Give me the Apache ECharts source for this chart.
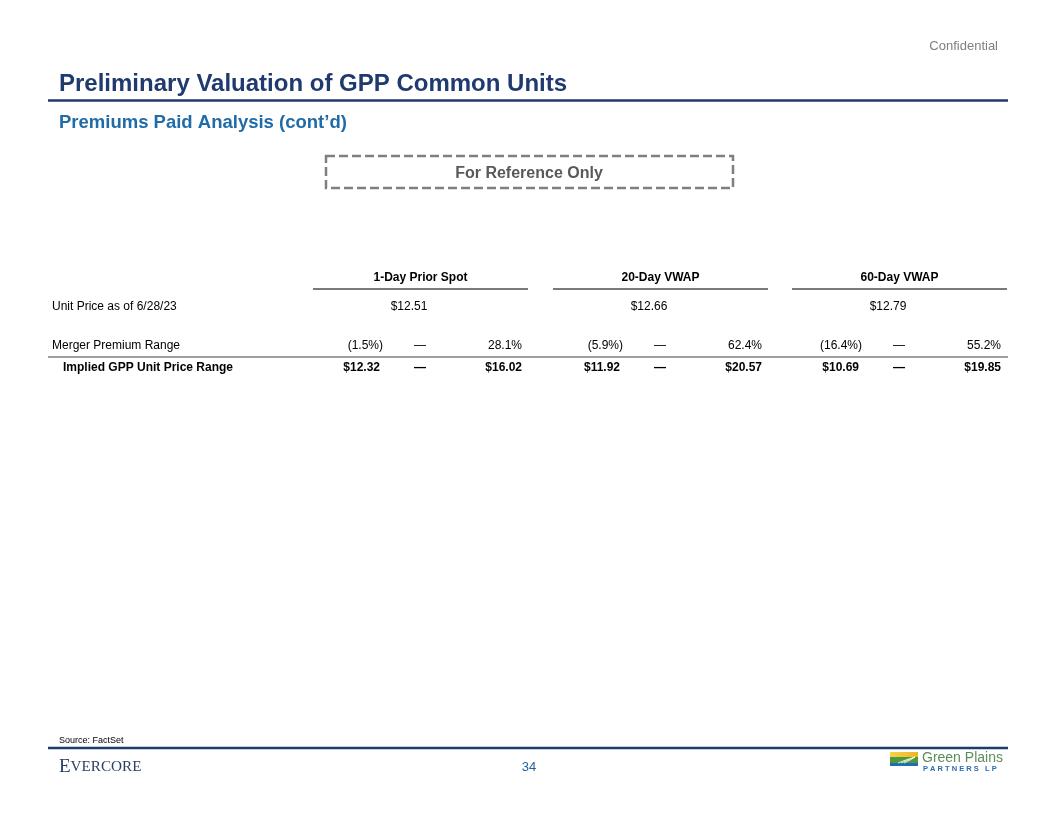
<!DOCTYPE html>
<html>
<head>
<meta charset="utf-8">
<script src="https://cdn.jsdelivr.net/npm/echarts@6/dist/echarts.min.js"></script>
<style>html,body{margin:0;padding:0;background:#fff}#c{width:1056px;height:816px}</style>
</head>
<body>
<div id="c"></div>
<script>
// ---- data ----
const columnHeaders = ['1-Day Prior Spot', '20-Day VWAP', '60-Day VWAP'];
const rowLabels = ['Unit Price as of 6/28/23', 'Merger Premium Range', 'Implied GPP Unit Price Range'];
const unitPrice = [12.51, 12.66, 12.79];
const premiumLow = [-1.5, -5.9, -16.4];
const premiumHigh = [28.1, 62.4, 55.2];
const impliedLow = [12.32, 11.92, 10.69];
const impliedHigh = [16.02, 20.57, 19.85];
const titleText = 'Preliminary Valuation of GPP Common Units';
const subtitleText = 'Premiums Paid Analysis (cont\u2019d)';
const sourceText = 'Source: FactSet';
const pageNumber = '34';

// ---- formatting ----
const money = v => '$' + v.toFixed(2);
const pct = v => v < 0 ? '(' + Math.abs(v).toFixed(1) + '%)' : v.toFixed(1) + '%';

const FONT = '"Liberation Sans", Arial, sans-serif';
const NAVY = '#1F3A6E';
const g = [];
function txt(x, y, text, o) {
  o = o || {};
  g.push({ type: 'text', x: x, y: y + 1, silent: true, style: {
    text: text, fill: o.fill || '#000', font: (o.bold ? 'bold ' : '') + (o.size || 12) + 'px ' + (o.family || FONT),
    textAlign: o.align || 'left', textVerticalAlign: 'middle'
  }});
}
function line(x1, y1, x2, y2, color, w, dash) {
  g.push({ type: 'line', silent: true, shape: { x1: x1, y1: y1, x2: x2, y2: y2 },
    style: { stroke: color, lineWidth: w, lineDash: dash || null } });
}

// header
txt(998, 45, 'Confidential', { fill: '#7F7F7F', size: 13, align: 'right' });
txt(59, 83, titleText, { fill: NAVY, size: 24, bold: true });
line(48, 100.5, 1008, 100.5, NAVY, 2.5);
txt(59, 122, subtitleText, { fill: '#1F6CA8', size: 18.5, bold: true });

// reference box
g.push({ type: 'rect', silent: true, shape: { x: 326, y: 156, width: 407, height: 32 },
  style: { fill: 'none', stroke: '#7F7F7F', lineWidth: 2.5, lineDash: [9, 4] } });
txt(529, 173, 'For Reference Only', { fill: '#595959', size: 16, bold: true, align: 'center' });

// table
const groupLeft = [313, 553, 792];
const groupW = 215;
const yHead = 277, yUnder = 289, yR1 = 306, yR2 = 345, yLine = 357, yR3 = 367;
txt(52, yR1, rowLabels[0]);
txt(52, yR2, rowLabels[1]);
txt(63, yR3, rowLabels[2], { bold: true });
columnHeaders.forEach(function (h, i) {
  const L = groupLeft[i];
  txt(L + groupW / 2, yHead, h, { bold: true, align: 'center' });
  line(L, yUnder, L + groupW, yUnder, '#4D4D4D', 1.5);
  txt(L + 96, yR1, money(unitPrice[i]), { align: 'center' });
  txt(L + 70, yR2, pct(premiumLow[i]), { align: 'right' });
  txt(L + 107, yR2, '\u2014', { align: 'center' });
  txt(L + 209, yR2, pct(premiumHigh[i]), { align: 'right' });
  txt(L + 67, yR3, money(impliedLow[i]), { align: 'right', bold: true });
  txt(L + 107, yR3, '\u2014', { align: 'center', bold: true });
  txt(L + 209, yR3, money(impliedHigh[i]), { align: 'right', bold: true });
});
line(48, yLine, 1008, yLine, '#7F7F7F', 1.5);

// footer
txt(59, 740, sourceText, { size: 9 });
line(48, 748, 1008, 748, NAVY, 2.5);
g.push({ type: 'text', x: 59, y: 767, silent: true, style: {
  text: '{a|E}{b|VERCORE}', textVerticalAlign: 'middle',
  rich: {
    a: { fontFamily: '"Liberation Serif", serif', fontSize: 19, fill: '#2B3E66', color: '#2B3E66' },
    b: { fontFamily: '"Liberation Serif", serif', fontSize: 15.2, fill: '#2B3E66', color: '#2B3E66' }
  }
}});
txt(529, 766, pageNumber, { fill: '#1F5FA3', size: 13, align: 'center' });

// Green Plains logo
g.push({ type: 'rect', silent: true, shape: { x: 890, y: 752, width: 28, height: 5 },
  style: { fill: new echarts.graphic.LinearGradient(0, 0, 1, 0, [{ offset: 0, color: '#F7D34A' }, { offset: 1, color: '#F0B323' }]) } });
g.push({ type: 'rect', silent: true, shape: { x: 890, y: 757, width: 28, height: 6 }, style: { fill: '#4E9A3A' } });
g.push({ type: 'rect', silent: true, shape: { x: 890, y: 763, width: 28, height: 3 }, style: { fill: '#1E6FB0' } });
[0, 3, 6].forEach(function (d) {
  g.push({ type: 'bezierCurve', silent: true, shape: { x1: 898 + d, y1: 763, x2: 915, y2: 757, cpx1: 905 + d, cpy1: 760 },
    style: { stroke: '#ffffff', lineWidth: 0.8, fill: 'none' } });
});
txt(922, 757, 'Green Plains', { fill: '#5E8B5A', size: 14 });
txt(923, 768, 'P A R T N E R S   L P', { fill: '#2A6DB0', size: 7.5, bold: true });

const chart = echarts.init(document.getElementById('c'), null, { renderer: 'canvas' });
chart.setOption({ backgroundColor: '#ffffff', animation: false, graphic: { elements: g } });
</script>
</body>
</html>
